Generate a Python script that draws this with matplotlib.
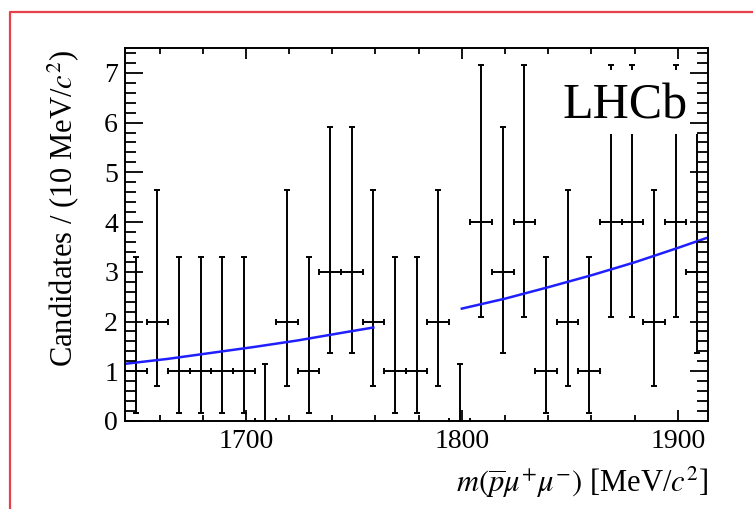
import matplotlib
matplotlib.use('Agg')
import matplotlib.pyplot as plt
from matplotlib.lines import Line2D
from matplotlib.patches import Rectangle
from matplotlib.ticker import MultipleLocator

plt.rcParams['font.family'] = ['Liberation Serif', 'DejaVu Serif']
plt.rcParams['mathtext.fontset'] = 'stix'

# ---- data ----
bin_centers = [1649, 1659, 1669, 1679, 1689, 1699, 1709, 1719, 1729, 1739,
               1749, 1759, 1769, 1779, 1789, 1799, 1809, 1819, 1829, 1839,
               1849, 1859, 1869, 1879, 1889, 1899, 1909]
counts = [1, 2, 1, 1, 1, 1, 0, 2, 1, 3,
          3, 2, 1, 1, 2, 0, 4, 3, 4, 1,
          2, 1, 4, 4, 2, 4, 3]
bin_half_width = 5
# asymmetric (Poisson) error sizes, by count
err_low_by_count = [0.0, 0.83, 1.29, 1.63, 1.91]
err_high_by_count = [1.15, 2.30, 2.64, 2.92, 3.16]

# fit curve, two segments
fit1_x = [1644, 1664, 1684, 1704, 1724, 1744, 1759]
fit1_y = [1.15, 1.25, 1.37, 1.49, 1.62, 1.77, 1.88]
fit2_x = [1800, 1820, 1840, 1860, 1880, 1900, 1914]
fit2_y = [2.26, 2.46, 2.69, 2.93, 3.19, 3.48, 3.69]

x_range = (1644, 1914)
y_range = (0, 7.5)

W, H = 753, 509
fig = plt.figure(figsize=(W / 100, H / 100), dpi=100)
ax = fig.add_axes([125 / W, 1 - 421 / H, (708 - 125) / W, (421 - 48) / H])

lo = [err_low_by_count[c] for c in counts]
hi = [err_high_by_count[c] for c in counts]
ax.errorbar(bin_centers, counts, xerr=bin_half_width, yerr=[lo, hi],
            fmt='none', ecolor='black', elinewidth=1.4, capsize=2.4,
            capthick=1.4, zorder=2)

ax.plot(fit1_x, fit1_y, color='#1f1fff', lw=1.8, zorder=2.1)
ax.plot(fit2_x, fit2_y, color='#1f1fff', lw=1.8, zorder=2.1)

ax.add_patch(Rectangle((1844, 5.77), 70, 1.28, facecolor='white',
                       edgecolor='none', zorder=2.3))
ax.text(1846.5, 6.08, 'LHCb', fontsize=36, zorder=2.4, ha='left',
        va='baseline')

ax.set_xlim(*x_range)
ax.set_ylim(*y_range)
ax.set_axisbelow(False)

ax.xaxis.set_major_locator(MultipleLocator(100))
ax.xaxis.set_minor_locator(MultipleLocator(20))
ax.yaxis.set_major_locator(MultipleLocator(1))
ax.yaxis.set_minor_locator(MultipleLocator(0.2))
ax.tick_params(which='both', direction='in', top=True, right=True,
               width=1.3, labelsize=20)
ax.tick_params(axis='x', which='major', length=8, pad=6)
ax.tick_params(axis='x', which='minor', length=4)
ax.tick_params(axis='y', which='major', length=13, pad=5)
ax.tick_params(axis='y', which='minor', length=8)
for s in ax.spines.values():
    s.set_linewidth(1.4)

fig.text(708 / W, 1 - 492 / H, r'$m(\overline{p}\mu^{+}\mu^{-})$ [MeV/$c^{2}$]',
         ha='right', va='baseline', fontsize=22)
fig.text(63 / W, 1 - 50 / H, r'Candidates / (10 MeV/$c^{2}$)', rotation=90,
         ha='center', va='top', fontsize=22)

# red frame (top and left edges visible)
red = '#e8404a'
fig.add_artist(Line2D([10 / W, 10 / W, 1.0], [0.0, 1 - 12 / H, 1 - 12 / H],
                      transform=fig.transFigure, color=red, lw=1.6))

fig.savefig('out.png', dpi=100)
